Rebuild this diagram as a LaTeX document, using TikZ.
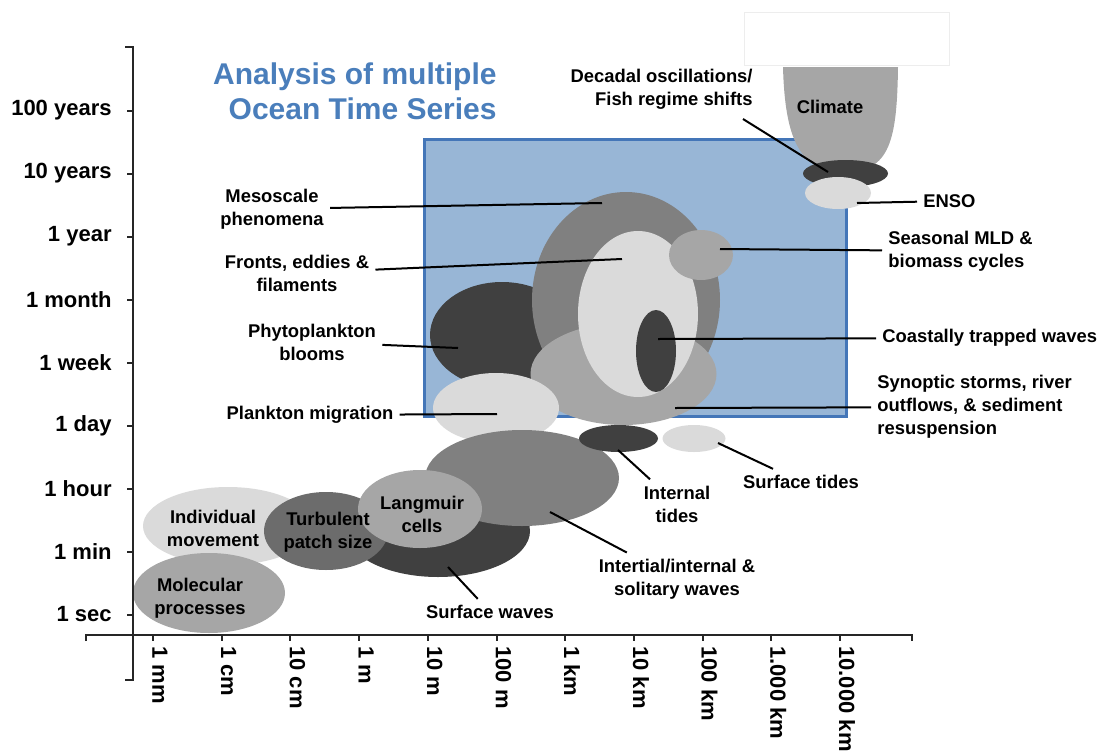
\documentclass[tikz,border=0pt]{standalone}
\usepackage{fontspec}
\setmainfont{Liberation Sans}
\usepackage{tikz}
\usetikzlibrary{positioning}

\definecolor{titleblue}{RGB}{74,126,187}
\definecolor{boxfill}{RGB}{152,182,214}
\definecolor{boxline}{RGB}{68,118,184}
\definecolor{gdark}{RGB}{64,64,64}
\definecolor{gmid}{RGB}{128,128,128}
\definecolor{gturb}{RGB}{108,108,108}
\definecolor{gsoft}{RGB}{166,166,166}
\definecolor{glight}{RGB}{218,218,218}

\begin{document}
\begin{tikzpicture}[x=0.5pt,y=-0.5pt,
  lbl/.style={font=\bfseries\fontsize{9.2}{11.5}\selectfont,align=center,inner sep=3pt},
  axlbl/.style={font=\bfseries\fontsize{11}{13}\selectfont,inner sep=0pt},
  lead/.style={line width=1pt},
  axis/.style={line width=1pt,color=black!85}]
  \useasboundingbox (0,0) rectangle (1105,756);

  \node[font=\bfseries\fontsize{15}{17.5}\selectfont,text=titleblue,align=right,anchor=east,inner sep=0pt] (title) at (497,91) {Analysis of multiple\\Ocean Time Series};

  \fill[boxfill,draw=boxline,line width=1.5pt] (424,139) rectangle (846,416);
  \draw[black!7] (744,12) rectangle (949,65);

  \fill[gsoft] (783,67) .. controls (785,140) and (800,172) .. (845,172) .. controls (890,172) and (897,140) .. (898,67) -- cycle;
  \fill[gdark] (845.5,173.5) ellipse (42.5 and 13.5);
  \fill[glight] (838,193) ellipse (33 and 16);

  \fill[gdark] (502,335) ellipse (72 and 53);
  \fill[gmid] (626,300) ellipse (94 and 108);
  \fill[gsoft] (623.5,374) ellipse (93 and 51);
  \fill[glight] (638,314) ellipse (60 and 83);
  \fill[gdark] (656,351) ellipse (20 and 41);
  \fill[gsoft] (701,255) ellipse (32 and 25);
  \fill[glight] (496,408) ellipse (63 and 35);
  \fill[gdark] (438,531) ellipse (92 and 46);
  \fill[gmid] (522,478) ellipse (97 and 48);
  \fill[gdark] (618.5,438.5) ellipse (39.5 and 13.5);
  \fill[glight] (694,438.5) ellipse (31.5 and 13.5);
  \fill[glight] (228,526) ellipse (85 and 39);
  \fill[gsoft] (209,593) ellipse (76 and 40);
  \fill[gturb] (326,531) ellipse (62 and 39);
  \fill[gsoft] (420,509) ellipse (62 and 39);

  \draw[axis] (125,47) -- (133,47) -- (133,680) -- (125,680);
  \draw[axis] (86,641) -- (86,635) -- (912,635) -- (912,641);
  \foreach \t [count=\i] in {100 years,10 years,1 year,1 month,1 week,1 day,1 hour,1 min,1 sec} {
    \pgfmathsetmacro\yy{47.5+63*\i}
    \draw[axis] (127,\yy) -- (133,\yy);
    \node[axlbl,anchor=east] (yl\i) at (112,\yy) {\t};
  }
  \foreach \t [count=\i] in {1 mm,1 cm,10 cm,1 m,10 m,100 m,1 km,10 km,100 km,1.000 km,10.000 km} {
    \pgfmathsetmacro\xx{84.3+68.7*\i}
    \draw[axis] (\xx,635) -- (\xx,641);
    \node[axlbl,rotate=-90,anchor=west] (xl\i) at (\xx+7,646) {\t};
  }

  \node[lbl,align=right,anchor=east] (decL) at (759,89) {Decadal oscillations/\\Fish regime shifts};
  \node[lbl] (climL) at (830,107) {Climate};
  \node[lbl,anchor=west] (ensoL) at (917,201) {ENSO};
  \node[lbl,align=left,anchor=west] (seasL) at (882,251) {Seasonal MLD \&\\biomass cycles};
  \node[lbl,anchor=west] (coastL) at (876,338) {Coastally trapped waves};
  \node[lbl,align=left,anchor=west] (synL) at (871,407) {Synoptic storms, river\\outflows, \& sediment\\resuspension};
  \node[lbl] (stideL) at (801,482) {Surface tides};
  \node[lbl] (itideL) at (677,504) {Internal\\tides};
  \node[lbl] (inerL) at (677,579) {Intertial/internal \&\\solitary waves};
  \node[lbl] (swaveL) at (490,612) {Surface waves};
  \node[lbl] (mesoL) at (272,209) {Mesoscale\\phenomena};
  \node[lbl] (frontL) at (297,273) {Fronts, eddies \&\\filaments};
  \node[lbl] (phytoL) at (312,342) {Phytoplankton\\blooms};
  \node[lbl] (migL) at (310,415) {Plankton migration};
  \node[lbl] (indL) at (213,528) {Individual\\movement};
  \node[lbl] (turbL) at (328,532) {Turbulent\\patch size};
  \node[lbl] (langL) at (422,514) {Langmuir\\cells};
  \node[lbl] (molL) at (200,598) {Molecular\\processes};

  \coordinate (decA) at (743,119);
  \coordinate (decP) at (828,172);
  \coordinate (ensoP) at (857,203);
  \coordinate (seasP) at (720,249);
  \coordinate (coastP) at (658,339);
  \coordinate (synP) at (675,408);
  \coordinate (stideP) at (718,443);
  \coordinate (itideP) at (618,450);
  \coordinate (inerP) at (550,512);
  \coordinate (swaveP) at (448,567);
  \coordinate (mesoP) at (602,203);
  \coordinate (frontP) at (622,259);
  \coordinate (phytoP) at (458,348);
  \coordinate (migP) at (497,414);

  \draw[lead] (decA) -- (decP);
  \draw[lead] (ensoL) -- (ensoP);
  \draw[lead] (seasL) -- (seasP);
  \draw[lead] (coastL) -- (coastP);
  \draw[lead] (synL) -- (synP);
  \draw[lead] (stideL) -- (stideP);
  \draw[lead] (itideL) -- (itideP);
  \draw[lead] (inerL) -- (inerP);
  \draw[lead] (swaveL) -- (swaveP);
  \draw[lead] (mesoL) -- (mesoP);
  \draw[lead] (frontL) -- (frontP);
  \draw[lead] (phytoL) -- (phytoP);
  \draw[lead] (migL) -- (migP);
\end{tikzpicture}
\end{document}
